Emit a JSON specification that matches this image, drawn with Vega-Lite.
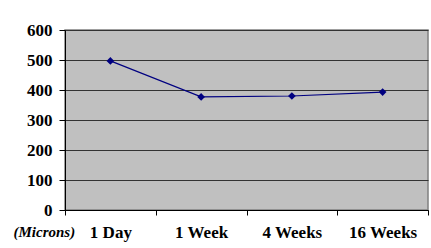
{
  "$schema": "https://vega.github.io/schema/vega-lite/v6.json",
  "autosize": {"type": "none"},
  "width": 363,
  "height": 180,
  "padding": {"left": 65, "top": 30, "right": 3, "bottom": 38},
  "background": "#ffffff",
  "data": {"values": [
    {"period": "1 Day", "microns": 497},
    {"period": "1 Week", "microns": 377},
    {"period": "4 Weeks", "microns": 380},
    {"period": "16 Weeks", "microns": 393}
  ]},
  "mark": {"type": "line", "color": "#000080", "strokeWidth": 1.2, "point": {"shape": "diamond", "filled": true, "size": 60, "color": "#000080"}},
  "encoding": {
    "x": {"field": "period", "type": "ordinal", "sort": null, "title": null,
      "scale": {"paddingInner": 0, "paddingOuter": 0},
      "axis": {"labelAngle": 0, "tickBand": "extent", "domainColor": "#000", "tickColor": "#000", "tickSize": 5, "labelPadding": 9,
        "labelFont": "Liberation Serif", "labelFontWeight": "bold", "labelFontSize": 17, "labelColor": "#000", "grid": false}},
    "y": {"field": "microns", "type": "quantitative",
      "scale": {"domain": [0, 600], "nice": false},
      "axis": {"values": [0, 100, 200, 300, 400, 500, 600], "tickSize": 6, "labelPadding": 7, "domainColor": "#000", "tickColor": "#000",
        "gridColor": "#333", "gridOpacity": 1, "grid": true,
        "labelFont": "Liberation Serif", "labelFontWeight": "bold", "labelFontSize": 17, "labelColor": "#000",
        "title": "(Microns)", "titleAngle": 0, "titleAlign": "left", "titleBaseline": "middle", "titleX": -52, "titleY": 201,
        "titleFont": "Liberation Serif", "titleFontStyle": "italic", "titleFontWeight": "bold", "titleFontSize": 15, "titleColor": "#000"}}
  },
  "config": {"view": {"fill": "#c0c0c0", "stroke": "#808080", "strokeWidth": 1.5}}
}
